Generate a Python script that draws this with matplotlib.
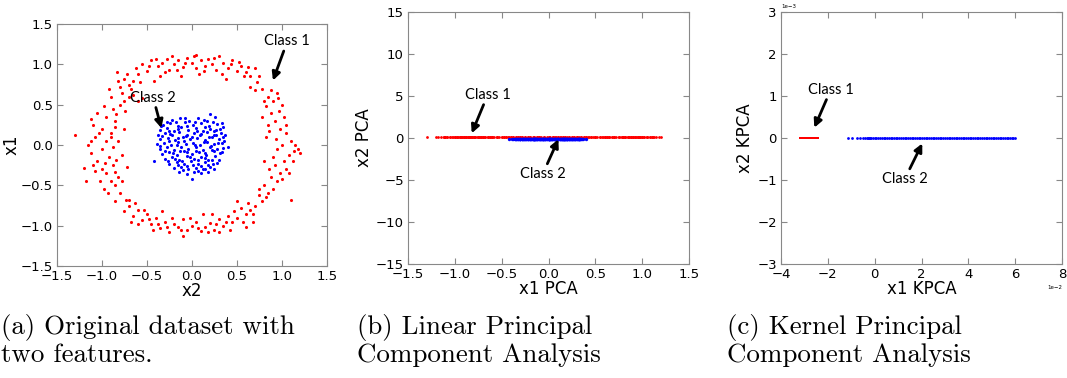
import numpy as np
import matplotlib
matplotlib.use("Agg")
import matplotlib.pyplot as plt

# ---- data ----
red_ring = [
    (-0.45, 1.05), (-0.38, 0.98), (-0.33, 1.02), (-0.28, 1.07), (-0.25, 0.93), (-0.2, 1.0), (-0.15, 1.05),
    (-0.1, 0.97), (-0.05, 1.08), (0.0, 1.02), (0.05, 0.95), (0.02, 1.1), (0.1, 1.05), (0.15, 0.98),
    (0.18, 1.07), (0.22, 1.0), (0.27, 0.93), (0.3, 1.1), (0.35, 1.02), (0.4, 0.96), (0.45, 1.05),
    (0.5, 0.92), (0.55, 0.98), (0.6, 0.9), (0.65, 0.85), (0.7, 0.95), (-0.5, 0.92), (-0.55, 1.0),
    (-0.6, 0.88), (-0.65, 0.8), (-0.7, 0.75), (-0.75, 0.82), (-0.8, 0.72), (-0.83, 0.9), (-0.12, 0.85),
    (0.08, 0.88), (-0.35, 0.86), (0.38, 0.82), (-0.42, 0.8), (0.72, 0.78), (0.78, 0.7), (0.65, 0.72),
    (0.85, 0.6), (0.82, 0.48), (0.9, 0.55), (0.95, 0.65), (1.0, 0.5), (0.88, 0.4), (0.92, 0.3),
    (1.02, 0.35), (0.98, 0.2), (0.85, 0.25), (1.05, 0.15), (1.1, 0.05), (1.15, 0.0), (1.2, -0.1),
    (1.0, 0.0), (0.95, -0.05), (1.08, -0.12), (1.12, -0.2), (0.92, -0.25), (0.98, -0.35), (1.05, -0.3),
    (0.88, -0.4), (0.95, -0.45), (0.8, -0.5), (0.85, -0.6), (0.75, -0.55), (0.78, -0.7), (1.1, -0.68),
    (0.82, 0.1), (0.9, -0.15), (1.18, -0.05), (0.78, 0.35),
    (0.7, -0.75), (0.65, -0.8), (0.6, -0.85), (0.55, -0.78), (0.5, -0.9), (0.45, -0.95), (0.4, -0.88),
    (0.35, -1.0), (0.3, -0.92), (0.25, -1.05), (0.2, -0.97), (0.15, -1.02), (0.1, -1.07), (0.05, -0.95),
    (0.0, -1.0), (-0.05, -1.05), (-0.1, -0.92), (-0.15, -1.02), (-0.2, -0.98), (-0.25, -1.08), (-0.3, -0.95),
    (-0.35, -1.03), (-0.4, -0.9), (-0.45, -0.98), (-0.5, -0.85), (-0.55, -0.93), (-0.6, -0.8), (-0.65, -0.88),
    (-0.7, -0.75), (-0.75, -0.82), (0.3, -1.08), (-0.1, -1.13), (0.6, -1.02), (0.68, -0.95), (0.42, -1.05),
    (-0.33, -0.82), (0.12, -0.85), (0.5, -0.7), (-0.6, -0.98), (0.75, -0.62),
    (-0.8, -0.6), (-0.85, -0.5), (-0.9, -0.45), (-0.82, -0.4), (-0.95, -0.35), (-1.0, -0.3), (-0.88, -0.25),
    (-1.05, -0.2), (-1.1, -0.25), (-0.92, -0.15), (-1.0, -0.05), (-1.15, 0.0), (-0.95, 0.05), (-1.08, 0.1),
    (-0.9, 0.15), (-1.0, 0.2), (-1.1, 0.25), (-0.85, 0.3), (-0.95, 0.35), (-1.05, 0.4), (-0.88, 0.45),
    (-0.8, 0.5), (-0.9, 0.6), (-0.75, 0.55), (-0.7, 0.6), (-0.65, 0.62), (-0.78, 0.65), (-1.3, 0.13),
    (-1.18, -0.45), (-0.72, -0.27), (-0.75, 0.2), (-0.82, 0.05), (-0.78, -0.12), (-1.12, -0.1), (-0.6, 0.55),
    (-0.55, 0.58), (-0.98, -0.55), (-0.7, -0.68),
    (-0.48, 0.98), (-0.4, 1.07), (-0.3, 0.9), (-0.22, 1.1), (-0.08, 1.02), (0.05, 1.12), (0.13, 0.92),
    (0.25, 1.08), (0.33, 0.88), (0.43, 1.0), (0.52, 1.03), (0.58, 0.85), (0.62, 0.97), (-0.62, 0.95),
    (-0.68, 0.7), (-0.72, 0.88), (-0.58, 0.78), (0.7, 0.68), (0.75, 0.85), (-0.17, 0.93),
    (0.88, 0.68), (0.8, 0.55), (0.97, 0.42), (0.86, 0.18), (0.93, 0.08), (1.05, 0.25), (1.13, -0.08),
    (1.02, -0.2), (0.86, -0.3), (1.0, -0.42), (0.9, -0.55), (0.82, -0.65), (0.96, 0.58), (1.08, -0.35),
    (0.8, -0.2),
    (0.68, -0.85), (0.57, -0.95), (0.47, -0.82), (0.38, -0.95), (0.27, -0.98), (0.18, -1.08), (0.07, -1.03),
    (-0.02, -0.9), (-0.12, -1.05), (-0.22, -0.9), (-0.28, -1.02), (-0.38, -0.98), (-0.48, -0.92),
    (-0.53, -0.8), (-0.63, -0.72), (-0.68, -0.95), (-0.73, -0.68), (0.22, -0.85), (-0.43, -1.05), (0.62, -0.72),
    (-0.85, -0.7), (-0.93, -0.6), (-1.02, -0.45), (-0.86, -0.33), (-1.08, -0.32), (-0.97, -0.22),
    (-0.84, -0.18), (-1.12, 0.05), (-0.88, -0.02), (-1.03, 0.15), (-0.86, 0.22), (-1.12, 0.32),
    (-0.98, 0.48), (-0.84, 0.38), (-0.92, 0.7), (-0.82, 0.8), (-0.74, 0.42), (-1.2, -0.28), (-0.78, -0.45),
    (-0.9, 0.1),
]

blue_core = [
    (-0.22, 0.31), (-0.13, 0.34), (-0.03, 0.3), (0.07, 0.33), (0.17, 0.3), (0.26, 0.35), (0.2, 0.38),
    (-0.32, 0.25), (-0.24, 0.27), (-0.16, 0.24), (-0.08, 0.28), (0.01, 0.25), (0.1, 0.27), (0.19, 0.24),
    (0.28, 0.26), (0.33, 0.27),
    (-0.36, 0.19), (-0.28, 0.21), (-0.2, 0.18), (-0.12, 0.22), (-0.04, 0.19), (0.04, 0.21), (0.12, 0.18),
    (0.2, 0.2), (0.27, 0.19), (0.34, 0.22),
    (-0.38, 0.13), (-0.3, 0.15), (-0.22, 0.12), (-0.14, 0.16), (-0.06, 0.13), (0.02, 0.15), (0.09, 0.12),
    (0.17, 0.16), (0.25, 0.13), (0.32, 0.15), (0.37, 0.12),
    (-0.35, 0.07), (-0.27, 0.09), (-0.19, 0.06), (-0.1, 0.1), (-0.02, 0.07), (0.06, 0.09), (0.14, 0.06),
    (0.22, 0.1), (0.3, 0.07), (0.36, 0.05),
    (-0.39, 0.01), (-0.31, 0.03), (-0.23, 0.0), (-0.15, 0.04), (-0.07, 0.01), (0.01, 0.03), (0.09, 0.0),
    (0.17, 0.04), (0.25, 0.01), (0.33, 0.03), (0.4, -0.03),
    (-0.36, -0.05), (-0.28, -0.03), (-0.2, -0.06), (-0.12, -0.02), (-0.04, -0.05), (0.04, -0.03),
    (0.12, -0.06), (0.2, -0.02), (0.28, -0.05), (0.35, -0.04),
    (-0.33, -0.11), (-0.25, -0.09), (-0.17, -0.12), (-0.09, -0.08), (0.0, -0.11), (0.08, -0.09),
    (0.16, -0.12), (0.24, -0.08), (0.31, -0.1),
    (-0.3, -0.17), (-0.22, -0.15), (-0.14, -0.18), (-0.06, -0.14), (0.02, -0.17), (0.1, -0.15),
    (0.18, -0.18), (0.26, -0.14), (0.3, -0.19),
    (-0.42, -0.2), (-0.25, -0.23), (-0.17, -0.21), (-0.09, -0.24), (-0.01, -0.2), (0.07, -0.23),
    (0.15, -0.21), (0.23, -0.24), (0.28, -0.22),
    (-0.2, -0.29), (-0.12, -0.27), (-0.04, -0.3), (0.04, -0.28), (0.12, -0.3), (0.2, -0.27), (0.25, -0.3),
    (-0.14, -0.34), (-0.06, -0.36), (0.02, -0.33), (0.1, -0.35), (0.18, -0.33), (0.0, -0.42),
    (-0.28, 0.29), (-0.18, 0.28), (-0.08, 0.33), (0.03, 0.29), (0.13, 0.31), (0.23, 0.29),
    (-0.34, 0.23), (-0.26, 0.18), (-0.15, 0.2), (-0.05, 0.23), (0.06, 0.18), (0.15, 0.22), (0.24, 0.17),
    (0.31, 0.2),
    (-0.33, 0.11), (-0.24, 0.14), (-0.16, 0.09), (-0.07, 0.11), (0.0, 0.1), (0.1, 0.14), (0.19, 0.1),
    (0.27, 0.12), (0.34, 0.1),
    (-0.35, -0.01), (-0.26, 0.05), (-0.17, -0.0), (-0.09, 0.05), (0.03, -0.0), (0.13, 0.04), (0.21, -0.01),
    (0.29, 0.02),
    (-0.3, -0.08), (-0.21, -0.1), (-0.13, -0.07), (-0.05, -0.09), (0.05, -0.07), (0.14, -0.1),
    (0.22, -0.06), (0.33, -0.09),
    (-0.27, -0.2), (-0.19, -0.17), (-0.11, -0.2), (-0.02, -0.15), (0.07, -0.19), (0.14, -0.16),
    (0.22, -0.19),
    (-0.16, -0.25), (-0.06, -0.26), (0.01, -0.25), (0.1, -0.26), (0.18, -0.25), (-0.1, -0.31),
    (0.07, -0.32), (0.15, -0.3),
]

# linear PCA: both classes collapse onto a flat band
pca_red_x2 = 0.1
pca_blue_x2 = -0.17

# kernel PCA, x1 in units of 1e-2, x2 all zero
kpca_scale = 1e-2
kpca_red_x1 = [-3.19, -3.16, -3.1, -3.07, -3.02, -2.98, -2.93, -2.88, -2.85, -2.79, -2.75,
               -2.71, -2.66, -2.62, -2.57, -2.53, -2.48, -2.44, -2.42]
kpca_blue_x1 = [-1.15, -0.95, -0.75, -0.62, -0.5, -0.42, -0.35, -0.3, -0.25, -0.2,
                -0.15, -0.08, 0.0, 0.07, 0.15, 0.22, 0.3, 0.38, 0.45, 0.52, 0.6, 0.68, 0.75,
                0.83, 0.9, 0.97, 1.05, 1.12, 1.2, 1.28, 1.35, 1.42, 1.5, 1.58, 1.65, 1.73, 1.8,
                1.88, 1.95, 2.03, 2.1, 2.18, 2.25, 2.33, 2.4, 2.48, 2.55, 2.63, 2.7, 2.78, 2.85,
                2.93, 3.0, 3.08, 3.15, 3.23, 3.3, 3.38, 3.45, 3.53, 3.6, 3.68, 3.75, 3.83, 3.9,
                3.98, 4.05, 4.13, 4.2, 4.28, 4.35, 4.43, 4.5, 4.58, 4.65, 4.73, 4.8, 4.88, 4.95,
                5.03, 5.1, 5.18, 5.25, 5.33, 5.4, 5.48, 5.55, 5.63, 5.7, 5.78, 5.85, 5.92, 5.98]

captions = ["(a) Original dataset with\ntwo features.",
            "(b) Linear Principal\nComponent Analysis",
            "(c) Kernel Principal\nComponent Analysis"]

RED = "#ff0000"
BLUE = "#0000ff"
SPINE = "#888888"
NOTE_FONT = ["Lato", "DejaVu Sans"]

red_x, red_y = np.array(red_ring).T
blue_x, blue_y = np.array(blue_core).T


def style_axes(ax):
    for sp in ax.spines.values():
        sp.set_color(SPINE)
    ax.tick_params(direction="in", top=True, right=True, length=4, width=0.8,
                   color=SPINE, labelsize=9.5, pad=3)


def note(ax, text, xy, xytext, va="bottom"):
    ax.annotate(text, xy=xy, xytext=xytext, ha="center", va=va,
                fontsize=10.5, family=NOTE_FONT,
                arrowprops=dict(arrowstyle="-|>", color="black", lw=2,
                                mutation_scale=12, shrinkA=0, shrinkB=0))


fig = plt.figure(figsize=(10.67, 3.78), dpi=100)

# (a) original data
ax1 = fig.add_axes([0.0534, 0.2963, 0.253, 0.640])
ax1.scatter(red_x, red_y, s=5, c=RED, linewidths=0)
ax1.scatter(blue_x, blue_y, s=5, c=BLUE, linewidths=0)
ax1.set_xlim(-1.5, 1.5)
ax1.set_ylim(-1.5, 1.5)
ax1.set_xticks(np.arange(-1.5, 1.51, 0.5))
ax1.set_yticks(np.arange(-1.5, 1.51, 0.5))
ax1.set_xlabel("x2", fontsize=12, labelpad=-1)
ax1.set_ylabel("x1", fontsize=12, labelpad=0)
note(ax1, "Class 1", (0.9, 0.8), (1.06, 1.2))
note(ax1, "Class 2", (-0.34, 0.21), (-0.43, 0.5))
style_axes(ax1)

# (b) linear PCA
ax2 = fig.add_axes([0.3824, 0.3016, 0.2634, 0.6667])
ax2.scatter(red_x, np.full(len(red_x), pca_red_x2), s=4, c=RED, linewidths=0)
ax2.scatter(blue_x, np.full(len(blue_x), pca_blue_x2), s=6, c=BLUE, linewidths=0)
ax2.set_xlim(-1.5, 1.5)
ax2.set_ylim(-15, 15)
ax2.set_xticks(np.arange(-1.5, 1.51, 0.5))
ax2.set_yticks(np.arange(-15, 16, 5))
ax2.set_xlabel("x1 PCA", fontsize=12, labelpad=-1)
ax2.set_ylabel("x2 PCA", fontsize=12, labelpad=2)
note(ax2, "Class 1", (-0.82, 0.56), (-0.65, 4.3))
note(ax2, "Class 2", (0.105, -0.15), (-0.06, -3.4), va="top")
style_axes(ax2)

# (c) kernel PCA
ax3 = fig.add_axes([0.732, 0.3016, 0.2634, 0.6667])
kr = np.array(kpca_red_x1) * kpca_scale
kb = np.array(kpca_blue_x1) * kpca_scale
ax3.scatter(kr, np.zeros(len(kr)), s=3, c=RED, marker="s", linewidths=0)
ax3.scatter(kb, np.zeros(len(kb)), s=4, c=BLUE, linewidths=0)
ax3.set_xlim(-0.04, 0.08)
ax3.set_ylim(-0.003, 0.003)
ax3.set_xticks(np.arange(-0.04, 0.081, 0.02))
ax3.set_yticks(np.arange(-0.003, 0.0031, 0.001))
ax3.ticklabel_format(style="sci", scilimits=(0, 0))
ax3.xaxis.get_offset_text().set_fontsize(4)
ax3.yaxis.get_offset_text().set_fontsize(4)
ax3.set_xlabel("x1 KPCA", fontsize=12, labelpad=-1)
ax3.set_ylabel("x2 KPCA", fontsize=12, labelpad=2)
note(ax3, "Class 1", (-0.0258, 0.000245), (-0.0188, 0.00098))
note(ax3, "Class 2", (0.0203, -0.00013), (0.0129, -0.0008), va="top")
style_axes(ax3)

# captions under each panel
for xpos, cap in zip([0.001, 0.3346, 0.6814], captions):
    fig.text(xpos, 0.168, cap, family="cmr10", fontsize=19.4, va="top", ha="left",
             linespacing=1.08)

fig.savefig("out.png", dpi=100)
